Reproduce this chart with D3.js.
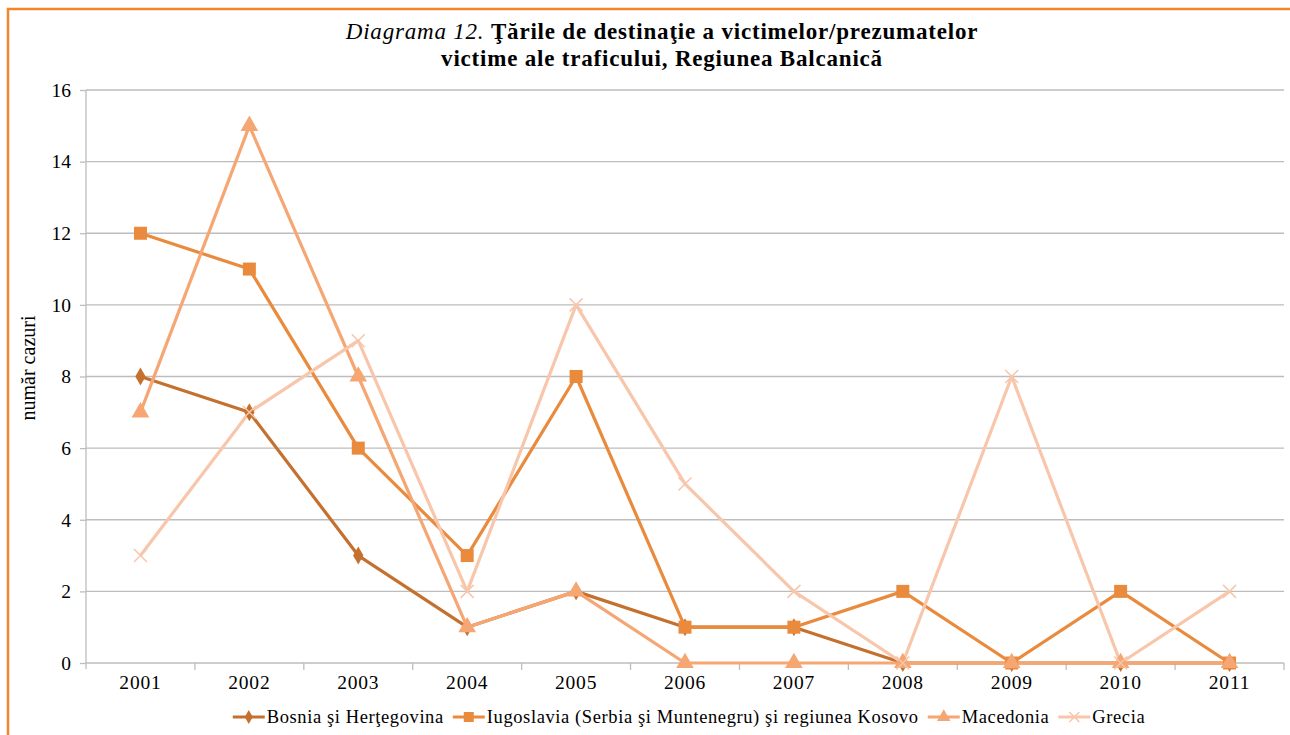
<!DOCTYPE html>
<meta charset="utf-8">
<style>
body { margin: 0; background: #fff; }
svg { display: block; font-family: "Liberation Serif", serif; }
.grid line { stroke: #bdbdbd; stroke-width: 1.3; }
.axis path, .axis line { stroke: #bdbdbd; stroke-width: 1.3; }
</style>
<body>
<svg width="1290" height="735"></svg>
<script src="https://cdn.jsdelivr.net/npm/d3@7"></script>
<script>
var years = ["2001","2002","2003","2004","2005","2006","2007","2008","2009","2010","2011"];
var bosnia = [8,7,3,1,2,1,1,0,0,0,0];
var iugoslavia = [12,11,6,3,8,1,1,2,0,2,0];
var macedonia = [7,15,8,1,2,0,0,0,0,0,0];
var grecia = [3,7,9,2,10,5,2,0,8,0,2];
var yTicks = [0,2,4,6,8,10,12,14,16];

var series = [
  {name: "Bosnia şi Herţegovina", values: bosnia, color: "#c4712f", marker: "diamond"},
  {name: "Iugoslavia (Serbia şi Muntenegru) şi regiunea Kosovo", values: iugoslavia, color: "#e98a3c", marker: "square"},
  {name: "Macedonia", values: macedonia, color: "#f5a672", marker: "triangle"},
  {name: "Grecia", values: grecia, color: "#f8c6aa", marker: "cross"}
];

var svg = d3.select("svg");
var margin = {top: 90, right: 6, bottom: 72, left: 86};
var width = 1290 - margin.left - margin.right,
    height = 735 - margin.top - margin.bottom;

// outer frame
svg.append("rect")
  .attr("x", 8).attr("y", 9)
  .attr("width", 1300).attr("height", 760)
  .attr("fill", "none")
  .attr("stroke", "#f0872a")
  .attr("stroke-width", 2.5);

// title
var title = svg.append("text")
  .attr("text-anchor", "middle")
  .attr("font-size", 23)
  .attr("letter-spacing", 0.8);
var t1 = title.append("tspan").attr("x", 662).attr("y", 39);
t1.append("tspan").attr("font-style", "italic").text("Diagrama 12. ");
t1.append("tspan").attr("font-weight", "bold").text("Ţările de destinaţie a victimelor/prezumatelor");
title.append("tspan").attr("x", 662).attr("y", 66).attr("font-weight", "bold")
  .text("victime ale traficului, Regiunea Balcanică");

var g = svg.append("g").attr("transform", "translate(" + margin.left + "," + margin.top + ")");

var x = d3.scaleBand().domain(years).range([0, width]);
var y = d3.scaleLinear().domain([0, 16]).range([height, 0]);

// gridlines
g.append("g").attr("class", "grid")
  .selectAll("line").data(yTicks.filter(function(d) { return d > 0; }))
  .enter().append("line")
  .attr("x1", 0).attr("x2", width)
  .attr("y1", function(d) { return y(d); })
  .attr("y2", function(d) { return y(d); });

// y axis
var yAxis = g.append("g").attr("class", "axis")
  .call(d3.axisLeft(y).tickValues(yTicks).tickSize(6).tickPadding(9).tickSizeOuter(0))
  .attr("font-family", "Liberation Serif").attr("font-size", 19.5);
yAxis.select(".domain").remove();
yAxis.selectAll("text").attr("fill", "#000");
yAxis.append("line").attr("x1", 0).attr("x2", 0).attr("y1", 0).attr("y2", height + 6)
  .attr("stroke", "#bdbdbd").attr("stroke-width", 1.3);

// x axis
var xAxis = g.append("g").attr("class", "axis")
  .attr("transform", "translate(0," + height + ")")
  .call(d3.axisBottom(x).tickSize(0).tickPadding(12))
  .attr("font-family", "Liberation Serif").attr("font-size", 19.5);
xAxis.select(".domain").remove();
xAxis.selectAll("text").attr("fill", "#000").attr("letter-spacing", 0.8);
xAxis.append("line").attr("x1", 0).attr("x2", width).attr("y1", 0).attr("y2", 0)
  .attr("stroke", "#bdbdbd").attr("stroke-width", 1.3);
xAxis.selectAll(".sep").data(years.slice(1).concat(["end"]))
  .enter().append("line")
  .attr("x1", function(d, i) { return x.step() * (i + 1); })
  .attr("x2", function(d, i) { return x.step() * (i + 1); })
  .attr("y1", 0).attr("y2", 7)
  .attr("stroke", "#bdbdbd").attr("stroke-width", 1.3);

// y label
svg.append("text")
  .attr("transform", "translate(35," + (margin.top + 278) + ") rotate(-90)")
  .attr("text-anchor", "middle")
  .attr("font-size", 20)
  .text("număr cazuri");

function cx(i) { return x(years[i]) + x.bandwidth() / 2; }

function drawMarker(sel, type, color, size) {
  if (type === "diamond") {
    sel.append("path").attr("d", d3.symbol(d3.symbolDiamond, size * size * 0.55)())
      .attr("fill", color);
  } else if (type === "square") {
    sel.append("path").attr("d", d3.symbol(d3.symbolSquare, size * size)())
      .attr("fill", color);
  } else if (type === "triangle") {
    sel.append("path").attr("d", d3.symbol(d3.symbolTriangle, size * size * 0.8)())
      .attr("fill", color);
  } else {
    var h = size / 2;
    sel.append("path").attr("d", "M" + (-h) + "," + (-h) + "L" + h + "," + h + "M" + h + "," + (-h) + "L" + (-h) + "," + h)
      .attr("stroke", color).attr("stroke-width", 1.5).attr("fill", "none");
  }
}

var line = d3.line()
  .x(function(d, i) { return cx(i); })
  .y(function(d) { return y(d); });

series.forEach(function(s) {
  g.append("path")
    .datum(s.values)
    .attr("fill", "none")
    .attr("stroke", s.color)
    .attr("stroke-width", 3.2)
    .attr("stroke-linejoin", "round")
    .attr("d", line);
});

series.forEach(function(s) {
  g.selectAll(null).data(s.values).enter().append("g")
    .attr("transform", function(d, i) { return "translate(" + cx(i) + "," + y(d) + ")"; })
    .each(function() { drawMarker(d3.select(this), s.marker, s.color, 13); });
});

// legend
var legendItems = [];
var lx = 0;
var measure = svg.append("text").attr("font-size", 18.5).attr("letter-spacing", 0.6).attr("visibility", "hidden");
series.forEach(function(s) {
  measure.text(s.name);
  var w = measure.node().getComputedTextLength();
  legendItems.push({s: s, x: lx});
  lx += 34 + w + 9;
});
measure.remove();
var totalW = lx - 9;

var legend = svg.append("g").attr("transform", "translate(" + (689 - totalW / 2) + ",717)");
legendItems.forEach(function(it) {
  var lg = legend.append("g").attr("transform", "translate(" + it.x + ",0)");
  lg.append("line").attr("x1", 0).attr("x2", 32).attr("y1", 0).attr("y2", 0)
    .attr("stroke", it.s.color).attr("stroke-width", 3.2);
  var m = lg.append("g").attr("transform", "translate(16,0)");
  drawMarker(m, it.s.marker, it.s.color, 10);
  lg.append("text").attr("x", 34).attr("y", 6).attr("font-size", 18.5)
    .attr("letter-spacing", 0.6).text(it.s.name);
});
</script>
</body>
